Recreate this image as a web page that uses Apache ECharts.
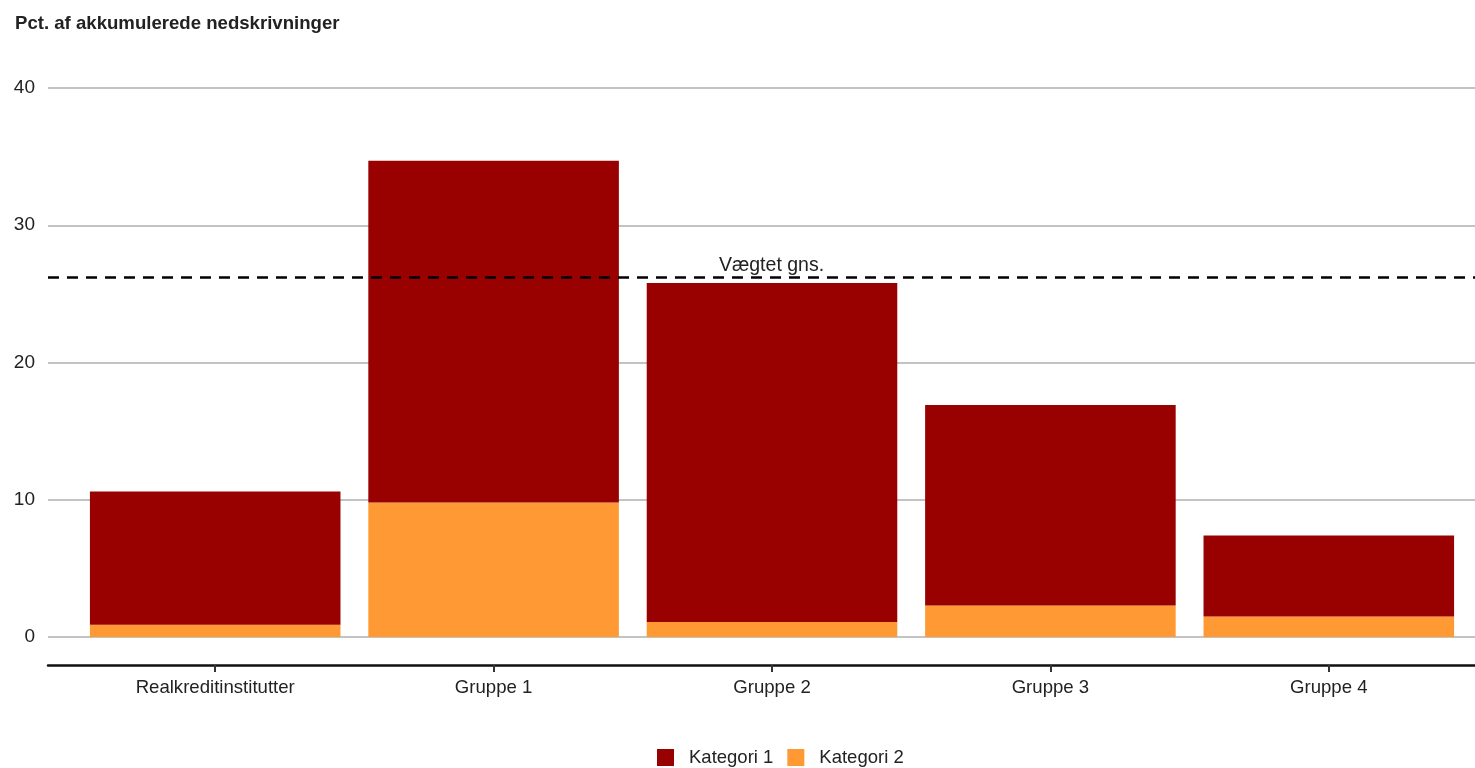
<!DOCTYPE html>
<html>
<head>
<meta charset="utf-8">
<script src="https://cdn.jsdelivr.net/npm/echarts@6/dist/echarts.min.js"></script>
<style>
  html, body { margin: 0; padding: 0; background: #fff; }
  #chart { width: 1475px; height: 768px; }
</style>
</head>
<body>
<div id="chart"></div>
<script>
// Akkumulerede nedskrivninger fordelt på kategorier
const categories = ['Realkreditinstitutter', 'Gruppe 1', 'Gruppe 2', 'Gruppe 3', 'Gruppe 4'];
const kategori1 = [9.7, 24.9, 24.7, 14.6, 5.9];
const kategori2 = [0.9, 9.8, 1.1, 2.3, 1.5];
const vaegtetGns = 26.2;
const yTicks = { min: 0, max: 40, interval: 10 };

const FONT = '"Liberation Sans", Arial, sans-serif';
const TEXT = '#222';

const chart = echarts.init(document.getElementById('chart'), null, { renderer: 'canvas' });

chart.setOption({
  animation: false,
  title: {
    text: 'Pct. af akkumulerede nedskrivninger',
    left: 15,
    top: 14,
    padding: 0,
    textStyle: { fontFamily: FONT, fontSize: 18.6, fontWeight: 'bold', color: TEXT }
  },
  legend: {
    data: ['Kategori 1', 'Kategori 2'],
    left: 657,
    top: 748,
    padding: 0,
    icon: 'rect',
    itemWidth: 17,
    itemHeight: 17,
    itemGap: 14,
    textStyle: { fontFamily: FONT, fontSize: 18.5, color: TEXT, padding: [0, 0, 0, 10] }
  },
  grid: [
    // full-width frame: gridlines, axis line, average line
    { left: 48, right: 0, top: 88, bottom: 131 },
    // bars
    { left: 76, right: 7, top: 88, bottom: 131 }
  ],
  xAxis: [
    {
      type: 'category', gridIndex: 0, data: categories,
      offset: 28,
      axisLine: { show: true, onZero: false, lineStyle: { color: '#111', width: 2.5 } },
      axisTick: { show: false },
      axisLabel: { show: false },
      splitLine: { show: false }
    },
    {
      type: 'category', gridIndex: 1, data: categories,
      offset: 28,
      axisLine: { show: false, onZero: false },
      axisTick: { show: true, alignWithLabel: true, length: 7, lineStyle: { color: '#333', width: 2 } },
      axisLabel: { fontFamily: FONT, fontSize: 18.6, color: TEXT, margin: 13 }
    }
  ],
  yAxis: [
    {
      type: 'value', gridIndex: 0,
      min: yTicks.min, max: yTicks.max, interval: yTicks.interval,
      axisLine: { show: false },
      axisTick: { show: false },
      axisLabel: { fontFamily: FONT, fontSize: 19, color: TEXT, margin: 13 },
      splitLine: { show: true, lineStyle: { color: '#c3c3c3', width: 2 } }
    },
    {
      type: 'value', gridIndex: 1,
      min: yTicks.min, max: yTicks.max, interval: yTicks.interval,
      axisLine: { show: false }, axisTick: { show: false },
      axisLabel: { show: false }, splitLine: { show: false }
    }
  ],
  series: [
    {
      name: 'Kategori 2', type: 'bar', stack: 'total',
      xAxisIndex: 1, yAxisIndex: 1,
      barCategoryGap: '10%',
      itemStyle: { color: '#ff9933' },
      data: kategori2
    },
    {
      name: 'Kategori 1', type: 'bar', stack: 'total',
      xAxisIndex: 1, yAxisIndex: 1,
      barCategoryGap: '10%',
      itemStyle: { color: '#990000' },
      data: kategori1
    },
    {
      name: 'Vægtet gns.', type: 'line',
      xAxisIndex: 0, yAxisIndex: 0,
      data: categories.map(() => '-'),
      showSymbol: false,
      silent: true,
      markLine: {
        silent: true,
        symbol: ['none', 'none'],
        lineStyle: { color: '#000', width: 2.5, type: [11, 8] },
        label: {
          show: true, position: 'middle', formatter: 'Vægtet gns.',
          fontFamily: FONT, fontSize: 19.5, color: TEXT, distance: 2, offset: [10, 0]
        },
        data: [{ yAxis: vaegtetGns }]
      }
    }
  ]
});
</script>
</body>
</html>
